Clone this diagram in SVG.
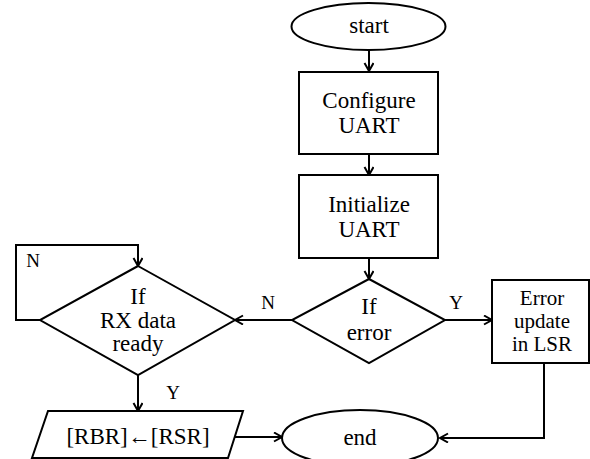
<svg xmlns="http://www.w3.org/2000/svg" width="590" height="459" viewBox="0 0 590 459">
  <style>
    .shape { fill: #ffffff; stroke: #000000; stroke-width: 2; }
    .wire { fill: none; stroke: #000000; stroke-width: 2; }
    text { font-family: 'Liberation Serif', 'DejaVu Serif', 'Times New Roman', serif; fill: #000000; text-anchor: middle; }
    .lbl { font-size: 23px; }
    .small { font-size: 21px; }
    .yn { font-size: 19px; }
  </style>
  <defs>
    <marker id="arrow" markerUnits="userSpaceOnUse" markerWidth="12" markerHeight="12" refX="9" refY="5" orient="auto">
      <path d="M1,0.5 L9,5 L1,9.5" fill="none" stroke="#000000" stroke-width="2"/>
    </marker>
  </defs>
  <rect width="590" height="459" fill="#ffffff"/>

  <!-- connectors -->
  <g id="connectors">
    <line class="wire" x1="369" y1="50" x2="369" y2="71" marker-end="url(#arrow)"/>
    <line class="wire" x1="369" y1="154" x2="369" y2="175" marker-end="url(#arrow)"/>
    <line class="wire" x1="369" y1="258" x2="369" y2="279" marker-end="url(#arrow)"/>
    <line class="wire" x1="445" y1="320" x2="492" y2="320" marker-end="url(#arrow)"/>
    <line class="wire" x1="292" y1="320" x2="235" y2="320" marker-end="url(#arrow)"/>
    <polyline class="wire" points="40,320 16,320 16,245 138,245 138,266" marker-end="url(#arrow)"/>
    <line class="wire" x1="138" y1="375" x2="138" y2="411" marker-end="url(#arrow)"/>
    <line class="wire" x1="234" y1="437" x2="282" y2="437" marker-end="url(#arrow)"/>
    <polyline class="wire" points="544,362 544,438 440,438" marker-end="url(#arrow)"/>
    <text class="yn" x="456" y="309" font-family="Liberation Serif, serif">Y</text>
    <text class="yn" x="268" y="309" font-family="Liberation Serif, serif">N</text>
    <text class="yn" x="33" y="267" font-family="Liberation Serif, serif">N</text>
    <text class="yn" x="173" y="399" font-family="Liberation Serif, serif">Y</text>
  </g>

  <g id="start">
    <ellipse class="shape" cx="368.5" cy="26.5" rx="77" ry="23.5"/>
    <text class="lbl" x="369" y="33">start</text>
  </g>

  <g id="configure">
    <rect class="shape" x="299" y="72" width="139" height="82"/>
    <text class="lbl" x="369" y="108">Configure</text>
    <text class="lbl" x="369" y="133">UART</text>
  </g>

  <g id="initialize">
    <rect class="shape" x="299" y="175" width="139" height="83"/>
    <text class="lbl" x="369" y="212">Initialize</text>
    <text class="lbl" x="369" y="237">UART</text>
  </g>

  <g id="if-error">
    <polygon class="shape" points="369,279 445,320 369,363 292,320"/>
    <text class="lbl" x="369" y="314">If</text>
    <text class="lbl" x="369" y="340">error</text>
  </g>

  <g id="error-update">
    <rect class="shape" x="492" y="280" width="97" height="83"/>
    <text class="small" x="542" y="305">Error</text>
    <text class="small" x="542" y="328">update</text>
    <text class="small" x="542" y="351">in LSR</text>
  </g>

  <g id="if-rx-ready">
    <polygon class="shape" points="138,266 235,320 138,375 40,320"/>
    <text class="lbl" x="138" y="304">If</text>
    <text class="lbl" x="138" y="328">RX data</text>
    <text class="lbl" x="138" y="351">ready</text>
  </g>

  <g id="copy-rbr">
    <polygon class="shape" points="48,411 243,411 228,458 32,458"/>
    <text class="lbl" x="138" y="444">[RBR]←[RSR]</text>
  </g>

  <g id="end">
    <ellipse class="shape" cx="360" cy="438" rx="78" ry="28"/>
    <text class="lbl" x="360" y="445">end</text>
  </g>
</svg>
